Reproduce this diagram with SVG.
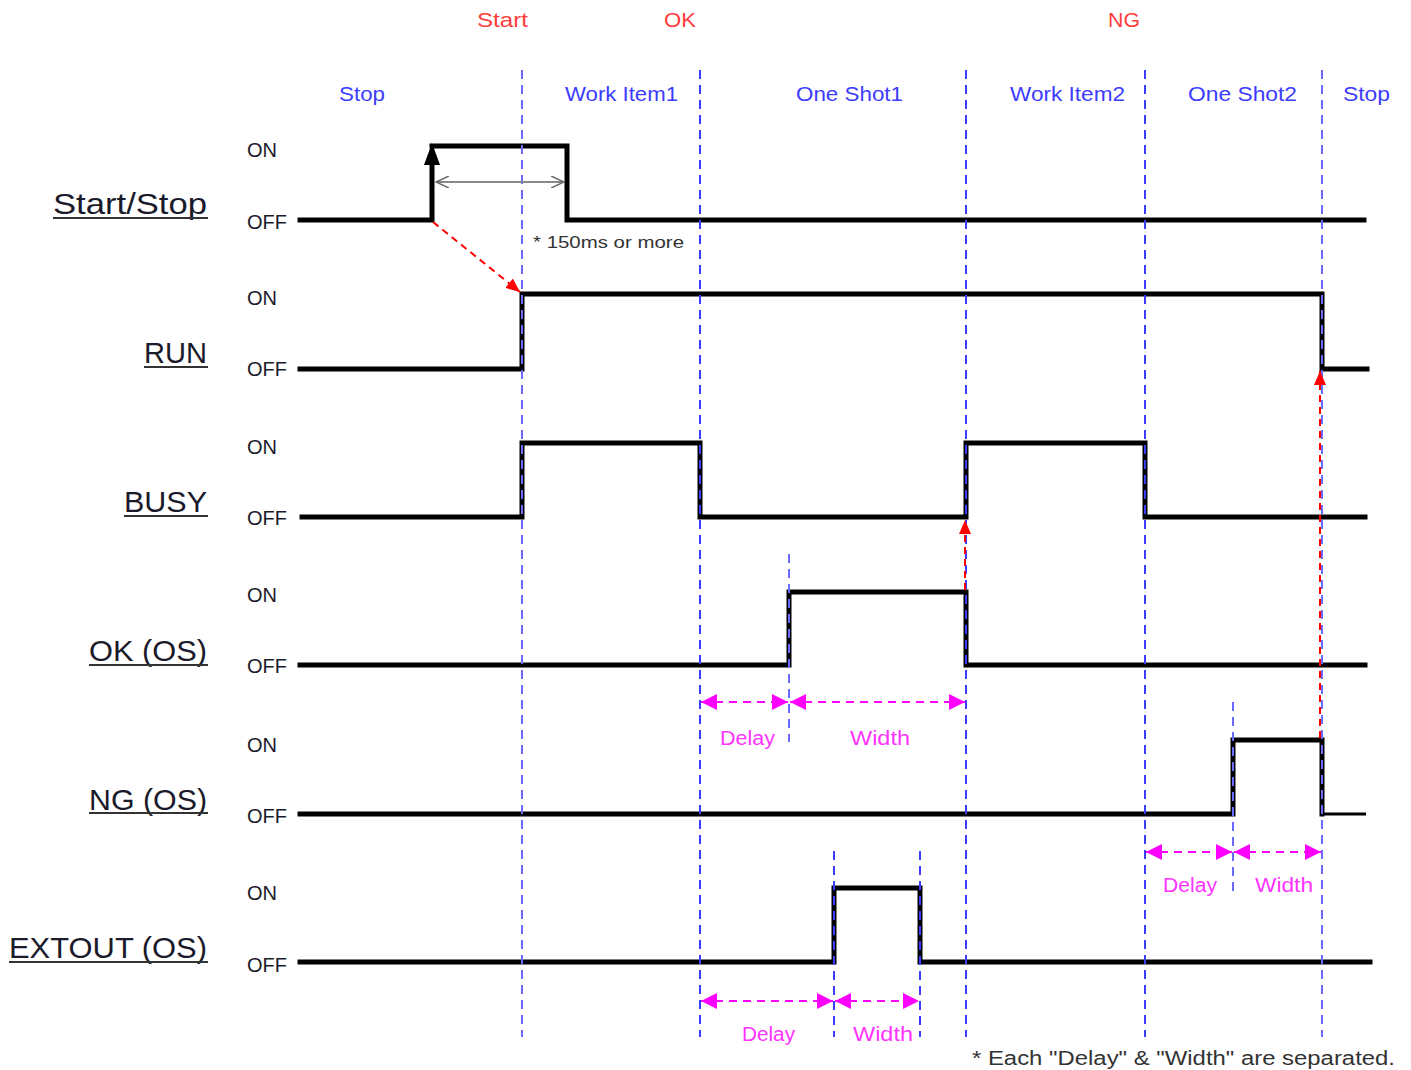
<svg xmlns="http://www.w3.org/2000/svg" width="1411" height="1070" viewBox="0 0 1411 1070">
<style>
  .sig{fill:none;stroke:#000;stroke-width:5;stroke-linejoin:miter;stroke-linecap:square}
  .guide{stroke:#3c3cff;stroke-width:2;stroke-dasharray:9,6;fill:none}
  .guide.lt{stroke:#6a6aff}
  .name{font-family:"Liberation Sans",Arial,sans-serif;font-size:29px;fill:#1a1a2a}
  .ul{stroke:#333;stroke-width:2}
  .lvl{font-family:"Liberation Sans",Arial,sans-serif;font-size:20px;fill:#1a1a2a}
  .top{font-family:"Liberation Sans",Arial,sans-serif;font-size:21px;fill:#ff3c3c}
  .phase{font-family:"Liberation Sans",Arial,sans-serif;font-size:21px;fill:#3c3cff}
  .mg{font-family:"Liberation Sans",Arial,sans-serif;font-size:20px;fill:#ff33ff}
  .mga{stroke:#ff00ff;stroke-width:2;stroke-dasharray:8,6;fill:none;marker-start:url(#mh);marker-end:url(#mh)}
  .red{stroke:#ff0000;stroke-width:2;stroke-dasharray:7,5;fill:none;marker-end:url(#rh)}
  .note{font-family:"Liberation Sans",Arial,sans-serif;font-size:16px;fill:#333}
  .foot{font-family:"Liberation Sans",Arial,sans-serif;font-size:20px;fill:#333}
</style>
<defs>
  <marker id="mh" markerUnits="userSpaceOnUse" markerWidth="16" markerHeight="16" refX="16" refY="8" orient="auto-start-reverse">
    <path d="M0,0 L16,8 L0,16 z" fill="#ff00ff"/>
  </marker>
  <marker id="rh" markerUnits="userSpaceOnUse" markerWidth="14" markerHeight="12" refX="14" refY="6" orient="auto">
    <path d="M0,0 L14,6 L0,12 z" fill="#ff0000"/>
  </marker>
  <marker id="gh" markerUnits="userSpaceOnUse" markerWidth="14" markerHeight="12" refX="13" refY="6" orient="auto-start-reverse">
    <path d="M0,0 L13,6 L0,12" fill="none" stroke="#666" stroke-width="1.5"/>
  </marker>
</defs>
<rect width="1411" height="1070" fill="#fff"/>

<g id="phase-labels">
  <text class="top" x="477" y="27" textLength="51" lengthAdjust="spacingAndGlyphs">Start</text>
  <text class="top" x="664" y="27" textLength="32" lengthAdjust="spacingAndGlyphs">OK</text>
  <text class="top" x="1108" y="27" textLength="32" lengthAdjust="spacingAndGlyphs">NG</text>
  <text class="phase" x="339" y="101" textLength="46" lengthAdjust="spacingAndGlyphs">Stop</text>
  <text class="phase" x="565" y="101" textLength="113" lengthAdjust="spacingAndGlyphs">Work Item1</text>
  <text class="phase" x="796" y="101" textLength="107" lengthAdjust="spacingAndGlyphs">One Shot1</text>
  <text class="phase" x="1010" y="101" textLength="115" lengthAdjust="spacingAndGlyphs">Work Item2</text>
  <text class="phase" x="1188" y="101" textLength="109" lengthAdjust="spacingAndGlyphs">One Shot2</text>
  <text class="phase" x="1343" y="101" textLength="47" lengthAdjust="spacingAndGlyphs">Stop</text>
</g>

<g id="sig-startstop">
  <text class="name" x="53" y="214" textLength="154" lengthAdjust="spacingAndGlyphs">Start/Stop</text>
  <line class="ul" x1="53" y1="218" x2="208" y2="218"/>
  <text class="lvl" x="247" y="157">ON</text>
  <text class="lvl" x="247" y="229">OFF</text>
  <polyline class="sig" points="300,220 432,220 432,164"/>
  <polyline class="sig" points="432,146 567,146 567,220 1364,220"/>
  <polygon points="432,143 424,165 440,165" fill="#000"/>
</g>

<g id="sig-run">
  <text class="name" x="144" y="363" textLength="63" lengthAdjust="spacingAndGlyphs">RUN</text>
  <line class="ul" x1="144" y1="367" x2="208" y2="367"/>
  <text class="lvl" x="247" y="305">ON</text>
  <text class="lvl" x="247" y="376">OFF</text>
  <polyline class="sig" points="300,369 522,369 522,294 1322,294 1322,369 1367,369"/>
</g>

<g id="sig-busy">
  <text class="name" x="124" y="512" textLength="83" lengthAdjust="spacingAndGlyphs">BUSY</text>
  <line class="ul" x1="124" y1="516" x2="208" y2="516"/>
  <text class="lvl" x="247" y="454">ON</text>
  <text class="lvl" x="247" y="525">OFF</text>
  <polyline class="sig" points="302,517 522,517 522,443 700,443 700,517 966,517 966,443 1145,443 1145,517 1365,517"/>
</g>

<g id="sig-ok">
  <text class="name" x="89" y="661" textLength="118" lengthAdjust="spacingAndGlyphs">OK (OS)</text>
  <line class="ul" x1="89" y1="665" x2="208" y2="665"/>
  <text class="lvl" x="247" y="602">ON</text>
  <text class="lvl" x="247" y="673">OFF</text>
  <polyline class="sig" points="300,665 789,665 789,592 966,592 966,665 1365,665"/>
</g>

<g id="sig-ng">
  <text class="name" x="89" y="810" textLength="118" lengthAdjust="spacingAndGlyphs">NG (OS)</text>
  <line class="ul" x1="89" y1="813" x2="208" y2="813"/>
  <text class="lvl" x="247" y="752">ON</text>
  <text class="lvl" x="247" y="823">OFF</text>
  <polyline class="sig" points="300,814 1233,814 1233,740 1322,740 1322,814"/>
  <line x1="1322" y1="814" x2="1366" y2="814" stroke="#000" stroke-width="3"/>
</g>

<g id="sig-extout">
  <text class="name" x="9" y="958" textLength="198" lengthAdjust="spacingAndGlyphs">EXTOUT (OS)</text>
  <line class="ul" x1="9" y1="962" x2="208" y2="962"/>
  <text class="lvl" x="247" y="900">ON</text>
  <text class="lvl" x="247" y="972">OFF</text>
  <polyline class="sig" points="300,962 834,962 834,888 920,888 920,962 1370,962"/>
</g>

<g id="guides">
  <line class="guide lt" x1="522" y1="70" x2="522" y2="1037"/>
  <line class="guide" x1="700" y1="70" x2="700" y2="1037"/>
  <line class="guide" x1="966" y1="70" x2="966" y2="1037"/>
  <line class="guide" x1="1145" y1="70" x2="1145" y2="1037"/>
  <line class="guide lt" x1="1322" y1="70" x2="1322" y2="1037"/>
  <line class="guide lt" x1="789" y1="554" x2="789" y2="742"/>
  <line class="guide" x1="834" y1="851" x2="834" y2="1037"/>
  <line class="guide" x1="920" y1="851" x2="920" y2="1037"/>
  <line class="guide lt" x1="1233" y1="702" x2="1233" y2="892"/>
</g>

<g id="connectors">
  <line x1="436" y1="182" x2="564" y2="182" stroke="#888" stroke-width="2" marker-start="url(#gh)" marker-end="url(#gh)"/>
  <line class="red" x1="433" y1="222" x2="520" y2="292"/>
  <line class="red" x1="965" y1="590" x2="965" y2="520"/>
  <line class="red" x1="1320" y1="738" x2="1320" y2="371"/>
  <line class="mga" x1="701" y1="702" x2="788" y2="702"/>
  <line class="mga" x1="790" y1="702" x2="965" y2="702"/>
  <line class="mga" x1="1146" y1="852" x2="1232" y2="852"/>
  <line class="mga" x1="1234" y1="852" x2="1321" y2="852"/>
  <line class="mga" x1="701" y1="1001" x2="833" y2="1001"/>
  <line class="mga" x1="835" y1="1001" x2="919" y2="1001"/>
</g>

<g id="annotations">
  <text class="note" x="533" y="248" textLength="151" lengthAdjust="spacingAndGlyphs">* 150ms or more</text>
  <text class="mg" x="720" y="745" textLength="55" lengthAdjust="spacingAndGlyphs">Delay</text>
  <text class="mg" x="850" y="745" textLength="60" lengthAdjust="spacingAndGlyphs">Width</text>
  <text class="mg" x="1163" y="892" textLength="54" lengthAdjust="spacingAndGlyphs">Delay</text>
  <text class="mg" x="1255" y="892" textLength="58" lengthAdjust="spacingAndGlyphs">Width</text>
  <text class="mg" x="742" y="1041" textLength="53" lengthAdjust="spacingAndGlyphs">Delay</text>
  <text class="mg" x="853" y="1041" textLength="60" lengthAdjust="spacingAndGlyphs">Width</text>
  <text class="foot" x="972" y="1065" textLength="423" lengthAdjust="spacingAndGlyphs">* Each &quot;Delay&quot; &amp; &quot;Width&quot; are separated.</text>
</g>
</svg>
